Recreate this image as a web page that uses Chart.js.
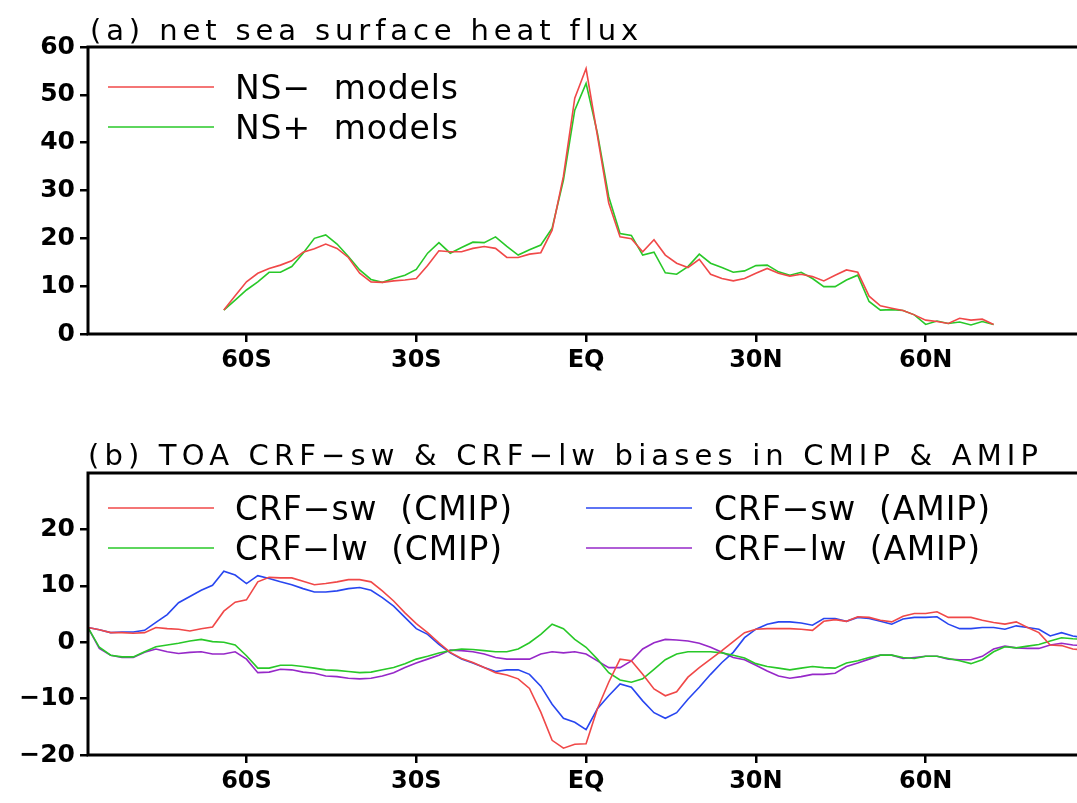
<!DOCTYPE html>
<html><head><meta charset="utf-8">
<script src="https://cdn.jsdelivr.net/npm/chart.js@4.4.1/dist/chart.umd.min.js"></script>
<style>
html,body{margin:0;padding:0;background:#fff;}
#wrap{position:relative;width:1077px;height:803px;overflow:hidden;background:#fff;}
canvas{position:absolute;left:0;}
</style></head><body>
<div id="wrap">
<canvas id="ca" width="1077" height="400" style="top:0px"></canvas>
<canvas id="cb" width="1077" height="403" style="top:400px"></canvas>
</div>
<script>
// ---------- data ----------
const latA = [-64,-62,-60,-58,-56,-54,-52,-50,-48,-46,-44,-42,-40,-38,-36,-34,-32,-30,-28,-26,-24,-22,-20,-18,-16,-14,-12,-10,-8,-6,-4,-2,0,2,4,6,8,10,12,14,16,18,20,22,24,26,28,30,32,34,36,38,40,42,44,46,48,50,52,54,56,58,60,62,64,66,68,70,72];
const nsMinus = [5.0,8.0,10.9,12.7,13.7,14.4,15.3,17.1,17.8,18.8,17.9,16.0,12.7,10.9,10.8,11.1,11.3,11.6,14.3,17.4,17.2,17.2,17.9,18.3,17.9,16.0,16.0,16.7,17.0,21.7,33.0,49.3,55.5,41.5,27.4,20.3,19.9,17.2,19.7,16.5,14.8,13.9,15.6,12.5,11.6,11.1,11.6,12.7,13.7,12.7,12.1,12.5,12.0,11.1,12.3,13.4,12.9,7.9,5.9,5.4,4.9,4.0,2.9,2.6,2.2,3.3,2.9,3.1,2.0];
const nsPlus = [5.0,7.1,9.2,10.9,12.9,12.9,14.1,16.9,20.0,20.7,18.8,16.2,13.4,11.4,10.8,11.6,12.3,13.5,16.9,19.1,16.9,18.1,19.2,19.1,20.3,18.3,16.5,17.6,18.6,22.1,32.2,46.8,52.4,42.0,28.7,21.0,20.6,16.5,17.1,12.8,12.5,14.1,16.7,14.8,13.9,12.9,13.2,14.3,14.4,13.0,12.3,12.9,11.6,9.9,9.9,11.3,12.3,6.8,5.0,5.1,4.9,4.0,2.0,2.7,2.2,2.5,1.9,2.6,2.0];

const latB = [-88,-86,-84,-82,-80,-78,-76,-74,-72,-70,-68,-66,-64,-62,-60,-58,-56,-54,-52,-50,-48,-46,-44,-42,-40,-38,-36,-34,-32,-30,-28,-26,-24,-22,-20,-18,-16,-14,-12,-10,-8,-6,-4,-2,0,2,4,6,8,10,12,14,16,18,20,22,24,26,28,30,32,34,36,38,40,42,44,46,48,50,52,54,56,58,60,62,64,66,68,70,72,74,76,78,80,82,84,86,88];
const swCMIP = [2.6,2.2,1.7,1.7,1.6,1.7,2.6,2.4,2.3,2.0, 2.4,2.7,5.5,7.1,7.5,10.7,11.5,11.4,11.4,10.8, 10.2,10.4,10.7,11.1,11.1,10.7,9.1,7.3,5.2,3.3, 1.7,-0.1,-1.8,-2.9,-3.6,-4.5,-5.4,-5.8,-6.5,-8.2, -12.4,-17.4,-18.8,-18.1,-18.0,-11.8,-7.1,-3.0,-3.3,-5.7, -8.3,-9.5,-8.8,-6.2,-4.5,-3.0,-1.5,0.1,1.7,2.3, 2.4,2.4,2.4,2.3,2.1,3.7,4.0,3.7,4.5,4.4, 3.9,3.6,4.6,5.1,5.1,5.4,4.4,4.4,4.4,3.9, 3.5,3.2,3.6,2.6,1.7,-0.5,-0.6,-1.2,-1.4];
const lwCMIP = [2.6,-0.9,-2.3,-2.6,-2.6,-1.7,-0.8,-0.5,-0.2,0.2, 0.5,0.1,0.0,-0.5,-2.4,-4.6,-4.6,-4.1,-4.1,-4.3, -4.6,-4.9,-5.0,-5.2,-5.4,-5.3,-4.9,-4.5,-3.8,-3.0, -2.5,-1.9,-1.5,-1.2,-1.3,-1.5,-1.7,-1.7,-1.2,-0.1, 1.4,3.2,2.4,0.5,-0.9,-3.0,-5.4,-6.7,-7.1,-6.5, -4.8,-3.1,-2.1,-1.7,-1.7,-1.7,-1.9,-2.3,-2.8,-3.8, -4.3,-4.6,-4.9,-4.6,-4.3,-4.5,-4.6,-3.7,-3.3,-2.7, -2.3,-2.3,-2.7,-2.9,-2.5,-2.5,-2.9,-3.3,-3.8,-3.1, -1.7,-0.8,-1.0,-0.7,-0.4,0.2,0.8,0.6,0.5];
const swAMIP = [2.6,2.2,1.7,1.8,1.8,2.1,3.5,4.9,7.0,8.1, 9.2,10.1,12.6,11.9,10.4,11.8,11.3,10.7,10.2,9.5, 8.9,8.9,9.1,9.5,9.7,9.2,7.9,6.4,4.4,2.4, 1.4,-0.4,-1.9,-3.0,-3.7,-4.5,-5.2,-4.9,-4.9,-5.7, -7.8,-11.0,-13.5,-14.2,-15.5,-11.8,-9.5,-7.4,-8.0,-10.4, -12.5,-13.5,-12.5,-10.1,-8.0,-5.7,-3.6,-1.8,0.8,2.3, 3.2,3.6,3.6,3.4,3.0,4.2,4.2,3.7,4.4,4.2, 3.7,3.2,4.1,4.4,4.4,4.5,3.2,2.4,2.4,2.6, 2.6,2.3,2.9,2.6,2.3,1.1,1.7,1.1,0.8];
const lwAMIP = [2.6,-1.1,-2.3,-2.7,-2.7,-1.8,-1.2,-1.7,-2.0,-1.8, -1.7,-2.1,-2.1,-1.7,-3.0,-5.4,-5.3,-4.8,-4.9,-5.3, -5.5,-6.0,-6.1,-6.4,-6.5,-6.4,-6.0,-5.4,-4.5,-3.7, -3.0,-2.3,-1.4,-1.5,-1.7,-2.1,-2.7,-3.0,-3.0,-3.0, -2.1,-1.7,-1.9,-1.7,-2.1,-3.3,-4.5,-4.5,-3.3,-1.2, -0.1,0.5,0.4,0.2,-0.2,-0.9,-1.8,-2.7,-3.1,-4.1, -5.1,-6.0,-6.4,-6.1,-5.7,-5.7,-5.5,-4.3,-3.7,-3.0, -2.3,-2.3,-2.9,-2.7,-2.5,-2.5,-3.0,-3.1,-3.1,-2.5, -1.2,-0.7,-1.0,-1.1,-1.1,-0.5,-0.2,-0.5,-0.6];

const xTickValues = [-60,-30,0,30,60];
const xTickLabels = ['60S','30S','EQ','30N','60N'];
const yTicksA = [0,10,20,30,40,50,60];
const yTicksB = [-20,-10,0,10,20];
const titleA = '(a) net sea surface heat flux';
const titleB = '(b) TOA CRF\u2212sw & CRF\u2212lw biases in CMIP & AMIP';
const legendA = ['NS\u2212  models','NS+  models'];
const legendB = ['CRF\u2212sw  (CMIP)','CRF\u2212lw  (CMIP)','CRF\u2212sw  (AMIP)','CRF\u2212lw  (AMIP)'];

// ---------- styles ----------
const RED = 'rgb(240,72,72)', GREEN = 'rgb(40,200,40)', BLUE = 'rgb(40,70,240)', PURPLE = 'rgb(150,40,200)';
const FONT = '"DejaVu Sans", "Liberation Sans", sans-serif';

function spacedText(ctx, text, x, y, width, font) {
  ctx.save();
  ctx.font = font;
  ctx.letterSpacing = '0px';
  const w = ctx.measureText(text).width;
  const n = Array.from(text).length;
  const ls = (width - w) / (n - 1);
  ctx.letterSpacing = ls.toFixed(2) + 'px';
  ctx.fillStyle = '#000';
  ctx.textBaseline = 'alphabetic';
  ctx.textAlign = 'left';
  ctx.fillText(text, x, y);
  ctx.restore();
}

function makeDecor(title, titleBox, legendItems) {
  return {
    id: 'decor',
    afterDraw(chart) {
      const ctx = chart.ctx, a = chart.chartArea;
      ctx.save();
      ctx.strokeStyle = '#000';
      ctx.lineWidth = 3;
      ctx.beginPath();
      ctx.moveTo(a.left, a.top); ctx.lineTo(chart.width, a.top);
      ctx.moveTo(a.left, a.top - 1.5); ctx.lineTo(a.left, a.bottom + 1.5);
      ctx.moveTo(a.left, a.bottom); ctx.lineTo(chart.width, a.bottom);
      ctx.stroke();
      ctx.restore();
      spacedText(ctx, title, titleBox[0], titleBox[1], titleBox[2], '29px ' + FONT);
      legendItems.forEach(it => {
        ctx.save();
        ctx.strokeStyle = it.color; ctx.lineWidth = 1.6;
        ctx.beginPath(); ctx.moveTo(it.lx, it.ly); ctx.lineTo(it.lx + 106, it.ly); ctx.stroke();
        ctx.restore();
        spacedText(ctx, it.text, it.tx, it.ly + 12, it.tw, '33px ' + FONT);
      });
    }
  };
}

function lineDs(lats, vals, color) {
  return { data: lats.map((x, i) => ({ x: x, y: vals[i] })), borderColor: color, borderWidth: 1.6,
           pointRadius: 0, tension: 0, fill: false };
}

function scalesFor(yMin, yMax, yTicks, xHeight) {
  return {
    x: {
      type: 'linear', min: -88, max: -88 + 989 / 5.66,
      afterBuildTicks(s) { s.ticks = xTickValues.map(v => ({ value: v })); },
      afterFit(s) { s.height = xHeight; },
      border: { display: false },
      grid: { display: true, drawOnChartArea: false, drawTicks: true, tickLength: 8, color: '#000', lineWidth: 2.5 },
      ticks: { autoSkip: false, maxRotation: 0, padding: 4, color: '#000',
               font: { family: FONT, size: 24, weight: 'bold' },
               callback: v => xTickLabels[xTickValues.indexOf(v)] }
    },
    y: {
      min: yMin, max: yMax,
      afterBuildTicks(s) { s.ticks = yTicks.map(v => ({ value: v })); },
      afterFit(s) { s.width = 88; },
      border: { display: false },
      grid: { display: true, drawOnChartArea: false, drawTicks: true, tickLength: 8, color: '#000', lineWidth: 2.5 },
      ticks: { autoSkip: false, padding: 5, color: '#000',
               font: { family: FONT, size: 25, weight: 'bold' },
               callback: v => String(v).replace('-', '\u2212') }
    }
  };
}

const common = { responsive: false, animation: false, devicePixelRatio: 1,
  plugins: { legend: { display: false }, tooltip: { enabled: false }, title: { display: false } } };

new Chart(document.getElementById('ca'), {
  type: 'line',
  data: { datasets: [lineDs(latA, nsMinus, RED), lineDs(latA, nsPlus, GREEN)] },
  options: Object.assign({}, common, {
    layout: { padding: { top: 47, left: 0, right: 0, bottom: 0 } },
    scales: scalesFor(0, 60, yTicksA, 66)
  }),
  plugins: [makeDecor(titleA, [90, 40, 548], [
    { text: legendA[0], color: RED, lx: 108, ly: 87, tx: 235, tw: 223 },
    { text: legendA[1], color: GREEN, lx: 108, ly: 127, tx: 235, tw: 223 }
  ])]
});

new Chart(document.getElementById('cb'), {
  type: 'line',
  data: { datasets: [lineDs(latB, swCMIP, RED), lineDs(latB, lwCMIP, GREEN), lineDs(latB, swAMIP, BLUE), lineDs(latB, lwAMIP, PURPLE)] },
  options: Object.assign({}, common, {
    layout: { padding: { top: 73, left: 0, right: 0, bottom: 0 } },
    scales: scalesFor(-20, 30, yTicksB, 48)
  }),
  plugins: [makeDecor(titleB, [88, 65, 950], [
    { text: legendB[0], color: RED, lx: 108, ly: 108, tx: 235, tw: 277 },
    { text: legendB[1], color: GREEN, lx: 108, ly: 148, tx: 235, tw: 267 },
    { text: legendB[2], color: BLUE, lx: 586, ly: 108, tx: 714, tw: 276 },
    { text: legendB[3], color: PURPLE, lx: 586, ly: 148, tx: 714, tw: 266 }
  ])]
});
</script>
</body></html>
